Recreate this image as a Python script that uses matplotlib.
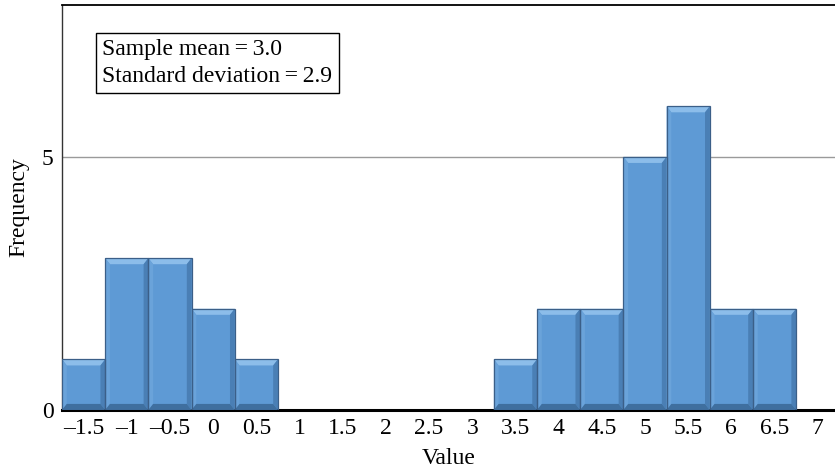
import matplotlib
matplotlib.use("Agg")
import matplotlib.pyplot as plt
from matplotlib.patches import Polygon

plt.rcParams['font.family'] = ['Liberation Serif', 'DejaVu Serif']

values = [-1.5, -1, -0.5, 0, 0.5, 1, 1.5, 2, 2.5, 3, 3.5, 4, 4.5, 5, 5.5, 6, 6.5]
freqs = [1, 3, 3, 2, 1, 0, 0, 0, 0, 0, 1, 2, 2, 5, 6, 2, 2]
tick_labels = ["–1.5", "–1", "–0.5", "0", "0.5", "1", "1.5", "2", "2.5", "3",
               "3.5", "4", "4.5", "5", "5.5", "6", "6.5", "7"]
y_ticks = [0, 5]
stats_text = "Sample mean\u2009=\u20093.0\nStandard deviation\u2009=\u20092.9"

fig = plt.figure(figsize=(8.35, 4.71), dpi=100)
ax = fig.add_axes([62/835, 61/471, 773/835, 405/471])

pos = list(range(len(values)))
ax.axhline(5, color='#9a9a9a', lw=1.0, zorder=1)
bars = ax.bar(pos, freqs, width=1.0, color='#5e9ad5', edgecolor='none',
              linewidth=0, zorder=2)

dx, dy = 0.11, 0.12
for b, h in zip(bars, freqs):
    if h <= 0:
        continue
    x0 = b.get_x(); x1 = x0 + b.get_width()
    top = Polygon([(x0, h), (x1, h), (x1 - dx, h - dy), (x0 + dx, h - dy)],
                  closed=True, facecolor='#8cbdea', edgecolor='none', zorder=3)
    left = Polygon([(x0, h), (x0 + dx, h - dy), (x0 + dx, dy), (x0, 0)],
                   closed=True, facecolor='#6aa3da', edgecolor='none', zorder=3)
    right = Polygon([(x1, h), (x1 - dx, h - dy), (x1 - dx, dy), (x1, 0)],
                    closed=True, facecolor='#4a7fb5', edgecolor='none', zorder=3)
    bot = Polygon([(x0, 0), (x1, 0), (x1 - dx, dy), (x0 + dx, dy)],
                  closed=True, facecolor='#3f6f9f', edgecolor='none', zorder=3)
    for p in (top, left, right, bot):
        ax.add_patch(p)
    ax.add_patch(Polygon([(x0, 0), (x0, h), (x1, h), (x1, 0)], closed=True,
                         facecolor='none', edgecolor='#3b5f88', lw=0.9, zorder=4))

ax.set_xlim(-0.5, 17.4)
ax.set_ylim(0, 8)
ax.set_xticks(range(len(tick_labels)))
ax.set_xticklabels(tick_labels, fontsize=17)
ax.set_yticks(y_ticks)
ax.set_yticklabels([str(t) for t in y_ticks], fontsize=17)
ax.tick_params(length=0, pad=6)
ax.set_xlabel("Value", fontsize=17, labelpad=6)
ax.set_ylabel("Frequency", fontsize=17, labelpad=9)

ax.spines['right'].set_visible(False)
ax.spines['bottom'].set_linewidth(2.2)
ax.spines['bottom'].set_color('black')
ax.spines['left'].set_linewidth(1.0)
ax.spines['left'].set_color('#333333')
ax.spines['top'].set_linewidth(1.3)

ax.text(0.052, 0.916, stats_text, transform=ax.transAxes, fontsize=17,
        va='top', ha='left', linespacing=1.38,
        bbox=dict(boxstyle='square,pad=0.27', facecolor='white', edgecolor='black', lw=1.0))

fig.savefig("out.png", dpi=100)
